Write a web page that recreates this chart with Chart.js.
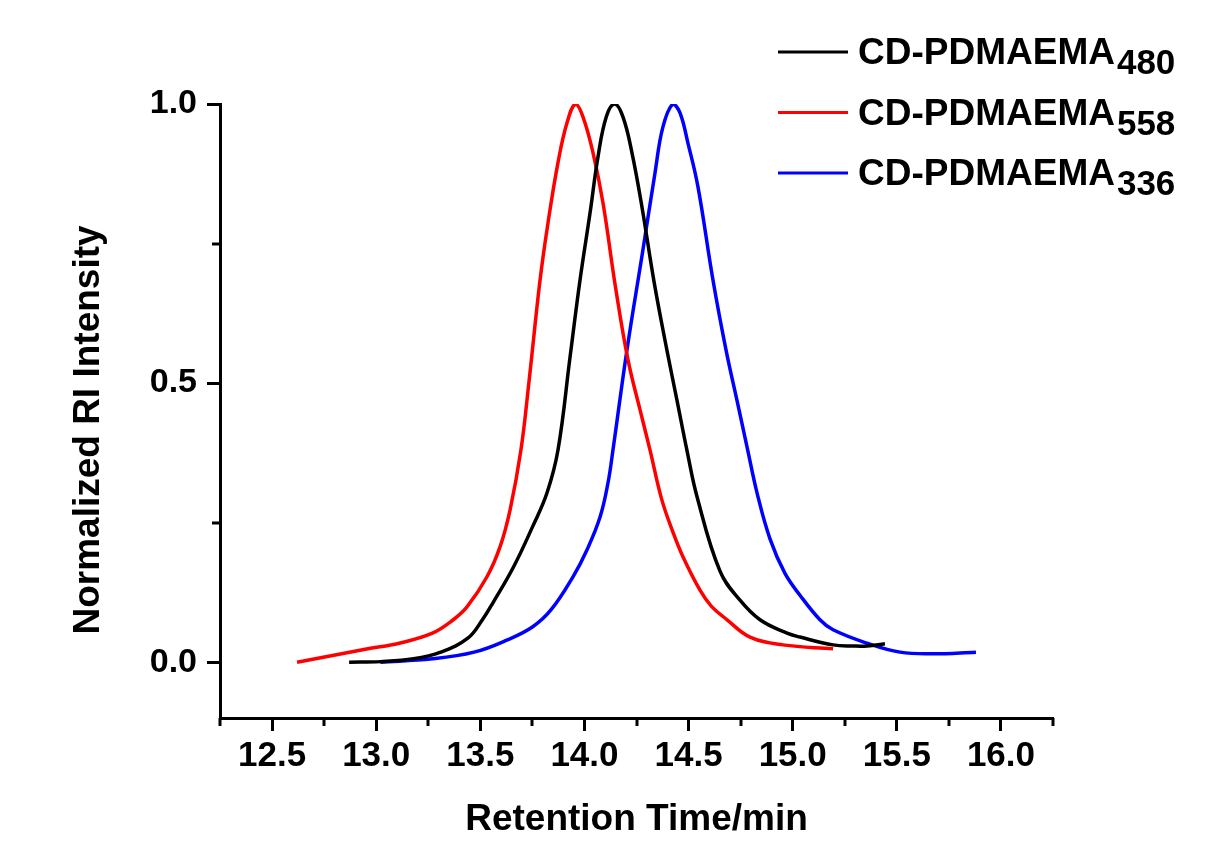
<!DOCTYPE html>
<html>
<head>
<meta charset="utf-8">
<script src="https://cdn.jsdelivr.net/npm/chart.js@4.4.0/dist/chart.umd.min.js"></script>
<style>
    html, body { margin: 0; padding: 0; background: #ffffff; }
</style>
</head>
<body>
<canvas id="grafico-gpc" width="1206" height="854"></canvas>
<script>
// cromatogrammi GPC normalizzati

var nomiSerie = ['CD-PDMAEMA', 'CD-PDMAEMA', 'CD-PDMAEMA'];
var pediciSerie = ['480', '558', '336'];
var coloriSerie = ['#000000', '#ff0000', '#0000ff'];

// CD-PDMAEMA480
var tempoNero = [12.87, 13.02, 13.18, 13.31, 13.44, 13.51, 13.56, 13.66, 13.75, 13.82, 13.873, 13.931, 13.979, 14.027, 14.065, 14.105, 14.145, 14.185, 14.228, 14.276, 14.335, 14.396, 14.444, 14.492, 14.541, 14.651, 14.747, 14.843, 14.973, 15.035, 15.194, 15.29, 15.357, 15.443];
var valoreNero = [0.000, 0.001, 0.006, 0.018, 0.043, 0.076, 0.106, 0.171, 0.242, 0.303, 0.380, 0.547, 0.685, 0.805, 0.905, 0.977, 1.000, 0.977, 0.913, 0.816, 0.680, 0.559, 0.470, 0.380, 0.296, 0.163, 0.111, 0.076, 0.052, 0.045, 0.031, 0.029, 0.029, 0.033];

// CD-PDMAEMA558
var tempoRosso = [12.62, 12.96, 13.11, 13.27, 13.37, 13.436, 13.532, 13.595, 13.643, 13.695, 13.733, 13.787, 13.825, 13.873, 13.916, 13.957, 13.993, 14.041, 14.089, 14.15, 14.209, 14.267, 14.315, 14.37, 14.425, 14.473, 14.555, 14.61, 14.685, 14.795, 14.953, 15.194];
var valoreRosso = [0.000, 0.024, 0.034, 0.052, 0.076, 0.099, 0.153, 0.207, 0.273, 0.380, 0.500, 0.685, 0.787, 0.895, 0.966, 1.000, 0.977, 0.913, 0.823, 0.670, 0.542, 0.452, 0.380, 0.293, 0.233, 0.189, 0.129, 0.100, 0.076, 0.045, 0.031, 0.024];

// CD-PDMAEMA336
var tempoBlu = [13.02, 13.27, 13.47, 13.63, 13.75, 13.84, 13.945, 14.012, 14.075, 14.113, 14.137, 14.204, 14.281, 14.339, 14.377, 14.425, 14.459, 14.497, 14.545, 14.617, 14.68, 14.732, 14.784, 14.829, 14.891, 14.963, 15.035, 15.131, 15.194, 15.357, 15.515, 15.674, 15.88];
var valoreBlu = [0.000, 0.006, 0.018, 0.040, 0.063, 0.094, 0.153, 0.201, 0.260, 0.321, 0.380, 0.559, 0.739, 0.877, 0.959, 1.000, 0.984, 0.930, 0.852, 0.685, 0.559, 0.470, 0.380, 0.303, 0.221, 0.159, 0.120, 0.076, 0.058, 0.034, 0.018, 0.015, 0.018];

var tickX = [12.5, 13.0, 13.5, 14.0, 14.5, 15.0, 15.5, 16.0];
var tickXMinori = [12.25, 12.75, 13.25, 13.75, 14.25, 14.75, 15.25, 15.75, 16.25];
var tickY = [0.0, 0.5, 1.0];
var tickYMinori = [0.25, 0.75];

var titoloX = 'Retention Time/min';
var titoloY = 'Normalized RI Intensity';

var FONT = '"Liberation Sans", Arial, sans-serif';

function unisci(tempi, valori) {   // coppie x,y per il grafico
    var punti = [];
    for (var i = 0; i < tempi.length; i++) {
        punti.push({ x: tempi[i], y: valori[i] });
    }
    return punti;
}

var serie = [unisci(tempoNero, valoreNero), unisci(tempoRosso, valoreRosso), unisci(tempoBlu, valoreBlu)];

var datasets = [];
for (var i = 0; i < serie.length; i++) {
    datasets.push({
        label: nomiSerie[i] + pediciSerie[i],
        data: serie[i],
        borderColor: coloriSerie[i],
        backgroundColor: coloriSerie[i],
        borderWidth: 3.5,
        pointRadius: 0,
        showLine: true,
        fill: false,
        tension: 0.4
    });
}

// tacche minori, titolo asse y e legenda con pedici
var pluginExtra = {
    id: 'extra',
    afterDraw: function (chart) {
        var ctx = chart.ctx;
        var area = chart.chartArea;
        var sx = chart.scales.x;
        var sy = chart.scales.y;
        ctx.save();
        ctx.strokeStyle = '#000';
        ctx.lineWidth = 3;
        ctx.beginPath();
        for (var i = 0; i < tickXMinori.length; i++) {
            var px = Math.round(sx.getPixelForValue(tickXMinori[i]));
            ctx.moveTo(px, area.bottom);
            ctx.lineTo(px, area.bottom + 8);
        }
        for (var j = 0; j < tickYMinori.length; j++) {
            var py = Math.round(sy.getPixelForValue(tickYMinori[j]));
            ctx.moveTo(area.left - 8, py);
            ctx.lineTo(area.left, py);
        }
        ctx.stroke();

        // titolo asse y
        ctx.save();
        ctx.translate(89, (area.top + area.bottom) / 2 + 19);
        ctx.rotate(-Math.PI / 2);
        ctx.fillStyle = '#000';
        ctx.font = 'bold 37px ' + FONT;
        ctx.textAlign = 'center';
        ctx.textBaseline = 'middle';
        ctx.fillText(titoloY, 0, 0);
        ctx.restore();

        // legenda
        for (var k = 0; k < chart.data.datasets.length; k++) {
            var yRiga = area.top - 52 + k * 60.5;
            ctx.strokeStyle = coloriSerie[k];
            ctx.beginPath();
            ctx.moveTo(778, yRiga);
            ctx.lineTo(848, yRiga);
            ctx.stroke();
            ctx.fillStyle = '#000';
            ctx.textAlign = 'left';
            ctx.textBaseline = 'alphabetic';
            ctx.font = 'bold 37px ' + FONT;
            ctx.fillText(nomiSerie[k], 858, yRiga + 12);
            var larghezza = ctx.measureText(nomiSerie[k]).width;
            ctx.font = 'bold 35px ' + FONT;
            ctx.fillText(pediciSerie[k], 858 + larghezza + 2, yRiga + 22);
        }
        ctx.restore();
    }
};

var ctx = document.getElementById('grafico-gpc').getContext('2d');
var chart = new Chart(ctx, {
    type: 'scatter',
    data: { datasets: datasets },
    plugins: [pluginExtra],
    options: {
        responsive: false,
        animation: false,
        layout: { padding: { top: 104, right: 153, left: 0, bottom: 0 } },
        plugins: {
            legend: { display: false },
            tooltip: { enabled: false }
        },
        scales: {
            x: {
                type: 'linear',
                min: 12.25,
                max: 16.25,
                afterBuildTicks: function (scale) {
                    scale.ticks = tickX.map(function (v) { return { value: v }; });
                },
                afterFit: function (scale) { scale.height = 136; },
                border: { display: true, color: '#000', width: 3 },
                grid: { drawOnChartArea: false, drawTicks: true, tickLength: 13, tickWidth: 3, tickColor: '#000' },
                ticks: {
                    color: '#000',
                    padding: 4,
                    maxRotation: 0,
                    autoSkip: false,
                    font: { family: FONT, size: 35, weight: 'bold' },
                    callback: function (v) { return Number(v).toFixed(1); }
                },
                title: {
                    display: true,
                    text: titoloX,
                    color: '#000',
                    font: { family: FONT, size: 37, weight: 'bold' },
                    padding: { top: 0, bottom: 12 }
                }
            },
            y: {
                type: 'linear',
                min: -0.1,
                max: 1.0,
                afterBuildTicks: function (scale) {
                    scale.ticks = tickY.map(function (v) { return { value: v }; });
                },
                afterFit: function (scale) { scale.width = 220; },
                border: { display: true, color: '#000', width: 3 },
                grid: { drawOnChartArea: false, drawTicks: true, tickLength: 13, tickWidth: 3, tickColor: '#000' },
                ticks: {
                    color: '#000',
                    padding: 10,
                    autoSkip: false,
                    font: { family: FONT, size: 34, weight: 'bold' },
                    callback: function (v) { return Number(v).toFixed(1); }
                }
            }
        }
    }
});
</script>
</body>
</html>
